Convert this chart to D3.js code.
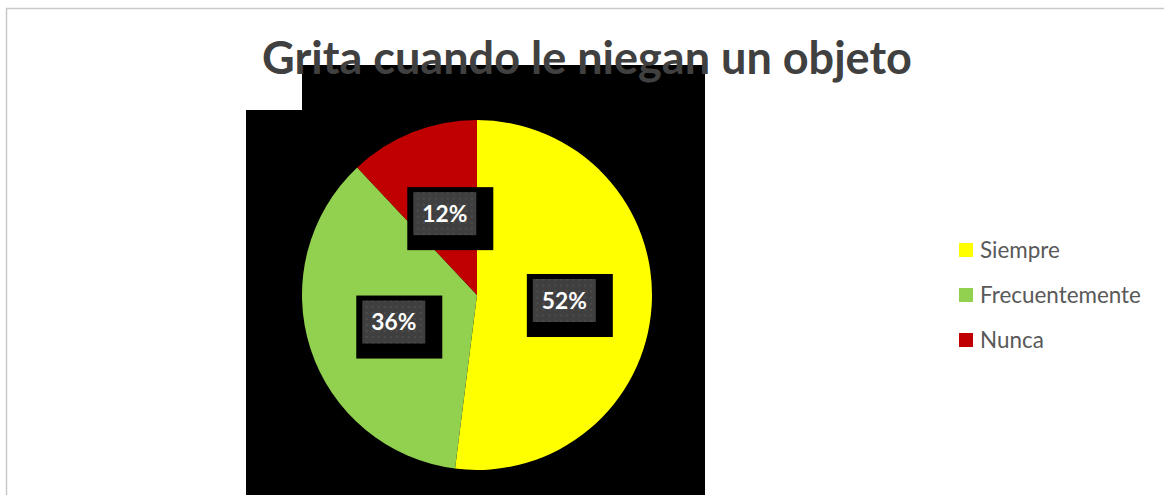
<!DOCTYPE html>
<html>
<head>
<meta charset="utf-8">
<script src="https://cdn.jsdelivr.net/npm/d3@7"></script>
<style>
  html, body { margin: 0; padding: 0; background: #fff; }
  svg { display: block; }
</style>
</head>
<body>
<svg id="chart" width="1164" height="495"></svg>
<script>
// Survey answers: "Grita cuando le niegan un objeto"
const title = "Grita cuando le niegan un objeto";
const categories = ["Siempre", "Frecuentemente", "Nunca"];
const values = [52, 36, 12];
const colors = ["#FFFF00", "#92D050", "#C00000"];

const svg = d3.select("#chart");
const W = 1164, H = 495;

// dotted fill used behind the data labels
const defs = svg.append("defs");
const pat = defs.append("pattern")
  .attr("id", "dots").attr("patternUnits", "userSpaceOnUse")
  .attr("width", 6).attr("height", 6);
pat.append("rect").attr("width", 6).attr("height", 6).attr("fill", "#3f3f3f");
pat.append("rect").attr("x", 2).attr("y", 2).attr("width", 2).attr("height", 2).attr("fill", "#4d4d4d");

// chart frame
svg.append("rect")
  .attr("x", 6.5).attr("y", 8.5).attr("width", W + 20).attr("height", H + 20)
  .attr("fill", "#fff").attr("stroke", "#c9c9c9").attr("stroke-width", 1.5);

// black backdrop behind the plot area
svg.append("rect").attr("x", 302).attr("y", 65).attr("width", 403).attr("height", 46).attr("fill", "#000");
svg.append("rect").attr("x", 246).attr("y", 110).attr("width", 459).attr("height", 400).attr("fill", "#000");

// pie
const cx = 477, cy = 295, R = 175;
const pie = d3.pie().sort(null).value(d => d)(values);
const arc = d3.arc().innerRadius(0).outerRadius(R);
const g = svg.append("g").attr("transform", `translate(${cx},${cy})`);
g.selectAll("path.slice").data(pie).join("path")
  .attr("class", "slice")
  .attr("d", arc)
  .attr("fill", (d, i) => colors[i]);

// data labels
const bw = 63, bh = 43;
const lab = g.selectAll("g.lab").data(pie).join("g")
  .attr("class", "lab")
  .attr("transform", d => { const [x, y] = arc.centroid(d); return `translate(${x},${y})`; });
lab.append("rect")
  .attr("x", -bw / 2 - 6).attr("y", -bh / 2 - 5).attr("width", bw + 23).attr("height", bh + 20)
  .attr("fill", "#000");
lab.append("rect")
  .attr("x", -bw / 2).attr("y", -bh / 2).attr("width", bw).attr("height", bh)
  .attr("fill", "url(#dots)");
const vt = lab.append("text")
  .attr("text-anchor", "middle").attr("dy", "0.36em")
  .attr("font-family", "Lato, 'Open Sans', sans-serif").attr("font-weight", 700)
  .attr("font-size", 21).attr("fill", "#fff")
  .text(d => d.data + "%");
const vw = vt.node().getComputedTextLength();
vt.attr("font-size", 21 * 45 / vw);

// title
const t = svg.append("text")
  .attr("x", 587).attr("y", 74)
  .attr("text-anchor", "middle")
  .attr("font-family", "Lato, 'Open Sans', sans-serif").attr("font-weight", 700)
  .attr("font-size", 38).attr("fill", "#404040")
  .text(title);
const tw = t.node().getComputedTextLength();
t.attr("font-size", 38 * 650 / tw);

// legend
const leg = svg.append("g").attr("transform", "translate(959,250)");
const items = leg.selectAll("g").data(categories).join("g")
  .attr("transform", (d, i) => `translate(0,${i * 45})`);
items.append("rect").attr("x", 0).attr("y", -7).attr("width", 14).attr("height", 14)
  .attr("fill", (d, i) => colors[i]);
const lt = items.append("text").attr("x", 21).attr("dy", "0.35em")
  .attr("font-family", "Lato, 'Open Sans', sans-serif")
  .attr("font-size", 19).attr("fill", "#595959")
  .text(d => d);
const fw = lt.filter((d, i) => i === 1).node().getComputedTextLength();
lt.attr("font-size", 19 * 161 / fw);
</script>
</body>
</html>
